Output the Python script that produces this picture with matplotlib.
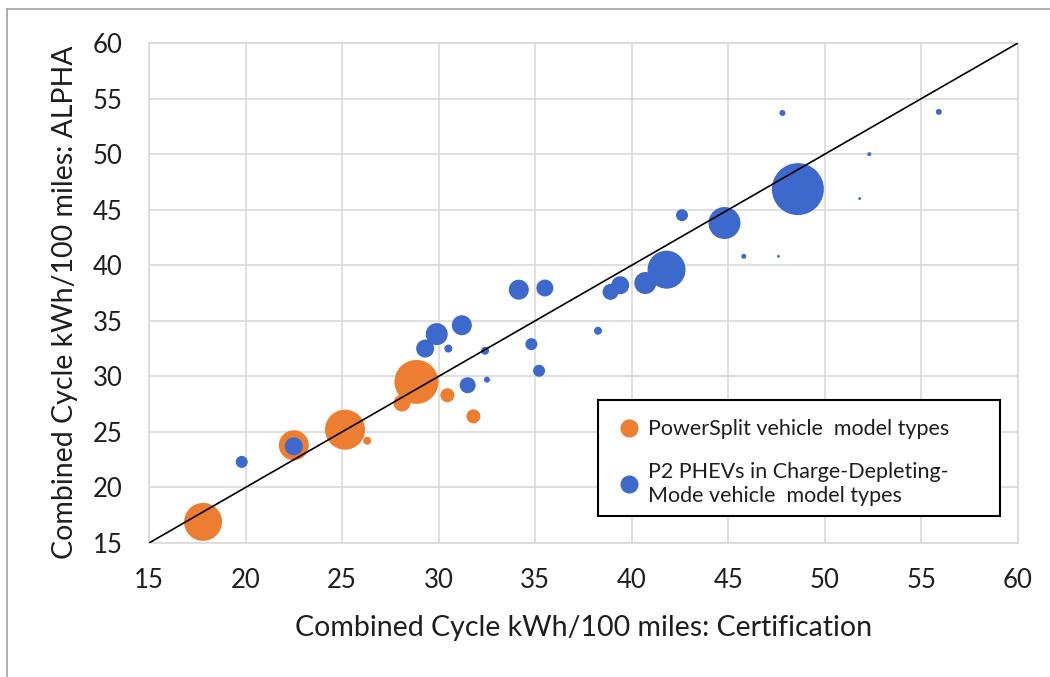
import matplotlib
matplotlib.use("Agg")
import matplotlib.pyplot as plt
from matplotlib.lines import Line2D
from matplotlib.patches import Rectangle
import numpy as np

# ---- data ----
ps_cert  = [17.8, 22.5, 25.15, 26.3, 28.85, 28.1, 30.45, 31.8]
ps_alpha = [16.9, 23.8, 25.2, 24.2, 29.5, 27.6, 28.3, 26.4]
ps_size  = [361, 225, 400, 16, 484, 72, 49, 49]

p2_cert  = [19.8, 22.5, 34.15, 35.5, 31.2, 29.9, 29.3, 30.5, 32.4, 34.8, 35.2,
            31.5, 32.5, 38.25, 38.9, 39.4, 40.7, 41.8, 42.6, 44.8, 48.6,
            47.8, 55.9, 52.3, 51.8, 45.8, 47.6]
p2_alpha = [22.3, 23.7, 37.8, 37.95, 34.6, 33.8, 32.5, 32.5, 32.3, 32.9, 30.5,
            29.2, 29.7, 34.1, 37.6, 38.2, 38.4, 39.6, 44.5, 43.8, 46.85,
            53.7, 53.8, 50.0, 46.0, 40.8, 40.8]
p2_size  = [36, 81, 100, 72, 100, 121, 81, 16, 16, 36, 36,
            64, 9, 16, 64, 81, 121, 361, 36, 256, 676,
            9, 9, 4, 2, 6, 2]

x_ticks = [15, 20, 25, 30, 35, 40, 45, 50, 55, 60]
y_ticks = [15, 20, 25, 30, 35, 40, 45, 50, 55, 60]
labels = ["PowerSplit vehicle  model types",
          "P2 PHEVs in Charge-Depleting-\nMode vehicle  model types"]
xlabel = "Combined Cycle kWh/100 miles: Certification"
ylabel = "Combined Cycle kWh/100 miles: ALPHA"

ORANGE = "#ED7D31"
BLUE = "#3D68CC"
TXT = "#1E1E1E"
FONT = ["Lato", "DejaVu Sans"]
plt.rcParams["font.family"] = FONT

W, H, DPI = 1050, 677, 100
fig = plt.figure(figsize=(W / DPI, H / DPI), dpi=DPI)
ax = fig.add_axes([149 / W, 1 - 543 / H, (1018 - 149) / W, (543 - 43) / H])

def to_s(v):
    # bubble value ~ (radius in px)^2 -> points^2
    return (np.sqrt(np.array(v, dtype=float)) * 2 * 72 / DPI) ** 2

ax.scatter(ps_cert, ps_alpha, s=to_s(ps_size), color=ORANGE, zorder=3,
           linewidths=0)
ax.scatter(p2_cert, p2_alpha, s=to_s(p2_size), color=BLUE, zorder=4,
           linewidths=0)
ax.plot([15, 60], [15, 60], color="black", lw=1.2, zorder=5)

ax.set_xlim(15, 60)
ax.set_ylim(15, 60)
ax.set_xticks(x_ticks)
ax.set_yticks(y_ticks)
ax.grid(True, color="#D9D9D9", lw=1.2, zorder=0)
ax.set_axisbelow(True)
for sp in ax.spines.values():
    sp.set_color("#D9D9D9")
    sp.set_linewidth(1.2)
ax.tick_params(length=0, labelsize=18.5, colors=TXT)
ax.tick_params(axis="x", pad=18)
ax.tick_params(axis="y", pad=19)
ax.set_xlabel(xlabel, fontsize=20.5, color=TXT)
ax.set_ylabel(ylabel, fontsize=20.5, color=TXT)
ax.xaxis.set_label_coords(0.5, (543 - 615) / 500)
ax.yaxis.set_label_coords((78 - 149) / 869, 0.482)

# legend box (fixed size, as in the reference)
fig.add_artist(Rectangle((598 / W, 1 - 516 / H), (1000 - 598) / W, (516 - 400) / H,
                         transform=fig.transFigure, facecolor="white",
                         edgecolor="black", lw=1.5, zorder=9))
handles = [Line2D([], [], marker="o", ls="", color=ORANGE, markersize=12),
           Line2D([], [], marker="o", ls="", color=BLUE, markersize=12)]
leg = fig.legend(handles, labels, loc="upper left",
                 bbox_to_anchor=(598 / W, 1 - 400 / H),
                 fontsize=15.5, frameon=False,
                 handletextpad=0.3, borderpad=0.9,
                 labelspacing=1.05, handlelength=1.1, borderaxespad=0)
leg.set_zorder(10)
for t in leg.get_texts():
    t.set_color(TXT)
    t.set_linespacing(1.25)

# outer chart frame (left and top visible)
fig.add_artist(Line2D([7 / W, 7 / W], [0, 1 - 9 / H], color="#A0A0A0", lw=1.2))
fig.add_artist(Line2D([7 / W, 1], [1 - 9 / H, 1 - 9 / H], color="#A0A0A0", lw=1.2))

fig.savefig("out.png", dpi=DPI, facecolor="white")
